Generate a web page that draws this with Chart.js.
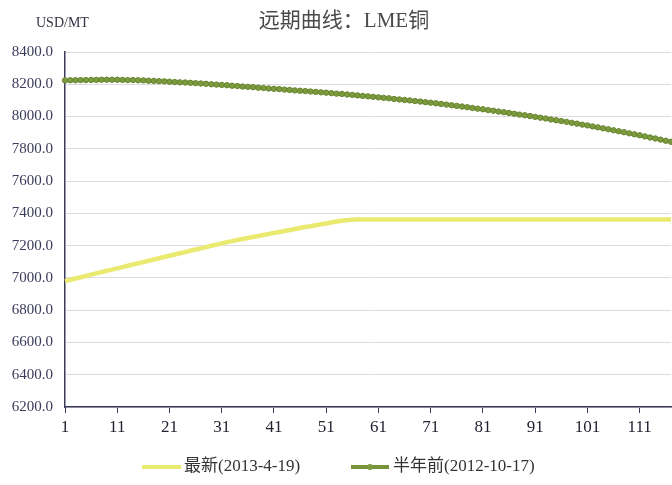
<!DOCTYPE html>
<html>
<head>
<meta charset="utf-8">
<script src="https://cdn.jsdelivr.net/npm/chart.js@4/dist/chart.umd.min.js"></script>
<style>
  html, body { margin: 0; padding: 0; background: #ffffff; overflow: hidden; }
  #wrap { width: 672px; height: 485px; position: relative; overflow: hidden; }
  #c { display: block; }
</style>
</head>
<body>
<div id="wrap"><canvas id="c" width="676" height="485"></canvas></div>
<script>
const chartTitle = "远期曲线：LME铜";
const unitLabel = "USD/MT";
const seriesNames = ["最新(2013-4-19)", "半年前(2012-10-17)"];

const categories = [];
for (let i = 1; i <= 117; i++) categories.push(String(i));

const latest = [
  6980, 6988, 6996, 7004, 7012, 7020, 7028, 7036, 7044, 7051,
  7059, 7067, 7075, 7083, 7091, 7098, 7106, 7114, 7122, 7130,
  7137, 7145, 7153, 7160, 7168, 7176, 7183, 7191, 7199, 7206,
  7214, 7222, 7228, 7235, 7241, 7247, 7254, 7260, 7266, 7272,
  7279, 7285, 7291, 7297, 7303, 7309, 7315, 7320, 7326, 7332,
  7337, 7343, 7349, 7354, 7358, 7361, 7362, 7362, 7362, 7362,
  7362, 7362, 7362, 7362, 7362, 7362, 7362, 7362, 7362, 7362,
  7362, 7362, 7362, 7362, 7362, 7362, 7362, 7362, 7362, 7362,
  7362, 7362, 7362, 7362, 7362, 7362, 7362, 7362, 7362, 7362,
  7362, 7362, 7362, 7362, 7362, 7362, 7362, 7362, 7362, 7362,
  7362, 7362, 7362, 7362, 7362, 7362, 7362, 7362, 7362, 7362,
  7362, 7362, 7362, 7362, 7362, 7362, 7362
];

const halfYearAgo = [
  8224, 8225, 8225, 8226, 8226, 8227, 8227, 8228, 8228, 8228,
  8228, 8227, 8226, 8226, 8225, 8224, 8222, 8221, 8219, 8218,
  8216, 8214, 8212, 8211, 8209, 8207, 8205, 8203, 8200, 8198,
  8196, 8194, 8191, 8189, 8186, 8184, 8182, 8179, 8177, 8174,
  8172, 8170, 8167, 8165, 8162, 8160, 8158, 8155, 8153, 8150,
  8148, 8145, 8142, 8140, 8137, 8134, 8131, 8128, 8125, 8122,
  8119, 8116, 8113, 8109, 8106, 8103, 8100, 8096, 8093, 8089,
  8086, 8082, 8078, 8074, 8070, 8066, 8062, 8058, 8053, 8049,
  8045, 8040, 8036, 8031, 8027, 8022, 8017, 8012, 8008, 8003,
  7998, 7993, 7988, 7982, 7977, 7972, 7967, 7961, 7956, 7950,
  7945, 7939, 7933, 7927, 7921, 7915, 7909, 7903, 7896, 7890,
  7884, 7877, 7870, 7864, 7857, 7850, 7844
];

const yMin = 6200, yMax = 8400, yStep = 200;
const xLabelEvery = 10;

const serif = '"Liberation Serif", "Noto Sans CJK SC", serif';

// Title, unit label and bottom legend drawn as real canvas text
const textPlugin = {
  id: 'textPlugin',
  afterDraw(chart) {
    const ctx = chart.ctx;
    ctx.save();
    ctx.fillStyle = '#4a4a4a';
    ctx.font = '21px ' + serif;
    ctx.textAlign = 'center';
    ctx.textBaseline = 'middle';
    ctx.fillText(chartTitle, 344, 21);

    ctx.fillStyle = '#333344';
    ctx.font = '14px ' + serif;
    ctx.textAlign = 'left';
    ctx.fillText(unitLabel, 36, 23);

    // legend
    const ly = 467;
    const items = [
      { sx: 142, sw: 39, tx: 184 },
      { sx: 351, sw: 38, tx: 393 }
    ];
    ctx.font = '17px ' + serif;
    ctx.textBaseline = 'middle';
    chart.data.datasets.forEach((ds, i) => {
      const it = items[i];
      ctx.fillStyle = ds.borderColor;
      ctx.fillRect(it.sx, ly - 2, it.sw, 4);
      if (ds.pointRadius > 0) {
        ctx.beginPath();
        ctx.arc(it.sx + it.sw / 2, ly, 3, 0, Math.PI * 2);
        ctx.fillStyle = ds.pointBackgroundColor;
        ctx.fill();
      }
      ctx.fillStyle = '#333333';
      ctx.fillText(ds.label, it.tx, ly);
    });
    ctx.restore();
  }
};

new Chart(document.getElementById('c'), {
  type: 'line',
  data: {
    labels: categories,
    datasets: [
      {
        label: seriesNames[0],
        data: latest,
        borderColor: '#EAEA70',
        backgroundColor: '#EAEA70',
        borderWidth: 4.5,
        pointRadius: 0,
        tension: 0
      },
      {
        label: seriesNames[1],
        data: halfYearAgo,
        borderColor: '#77933C',
        backgroundColor: '#77933C',
        borderWidth: 3.5,
        pointRadius: 2.7,
        pointBackgroundColor: '#7D9B3E',
        pointBorderColor: '#688530',
        pointBorderWidth: 1,
        tension: 0
      }
    ]
  },
  options: {
    responsive: false,
    animation: false,
    devicePixelRatio: 1,
    layout: { padding: { top: 52, left: 0, right: 0, bottom: 49 } },
    plugins: {
      title: { display: false },
      tooltip: { enabled: false },
      legend: { display: false }
    },
    scales: {
      x: {
        type: 'category',
        offset: false,
        afterFit(scale) { scale.height = 29; },
        border: { display: true, color: '#3a3a5a', width: 1.5 },
        grid: {
          drawOnChartArea: false,
          drawTicks: true,
          tickLength: 6,
          color: (ctx) => (ctx.index % xLabelEvery === 0 ? '#3a3a5a' : 'rgba(0,0,0,0)')
        },
        ticks: {
          autoSkip: false,
          maxRotation: 0,
          minRotation: 0,
          padding: 4,
          color: '#222233',
          font: { family: serif, size: 17 },
          callback: function(v, i) { return i % xLabelEvery === 0 ? categories[i] : ''; }
        }
      },
      y: {
        min: yMin,
        max: yMax,
        afterFit(scale) { scale.width = 65; },
        border: { display: true, color: '#3a3a5a', width: 1.5 },
        grid: { drawTicks: false, color: '#dcdce0', lineWidth: 1 },
        ticks: {
          stepSize: yStep,
          padding: 12,
          color: '#3a3a5a',
          font: { family: serif, size: 15 },
          callback: (v) => Number(v).toFixed(1)
        }
      }
    }
  },
  plugins: [textPlugin]
});
</script>
</body>
</html>
